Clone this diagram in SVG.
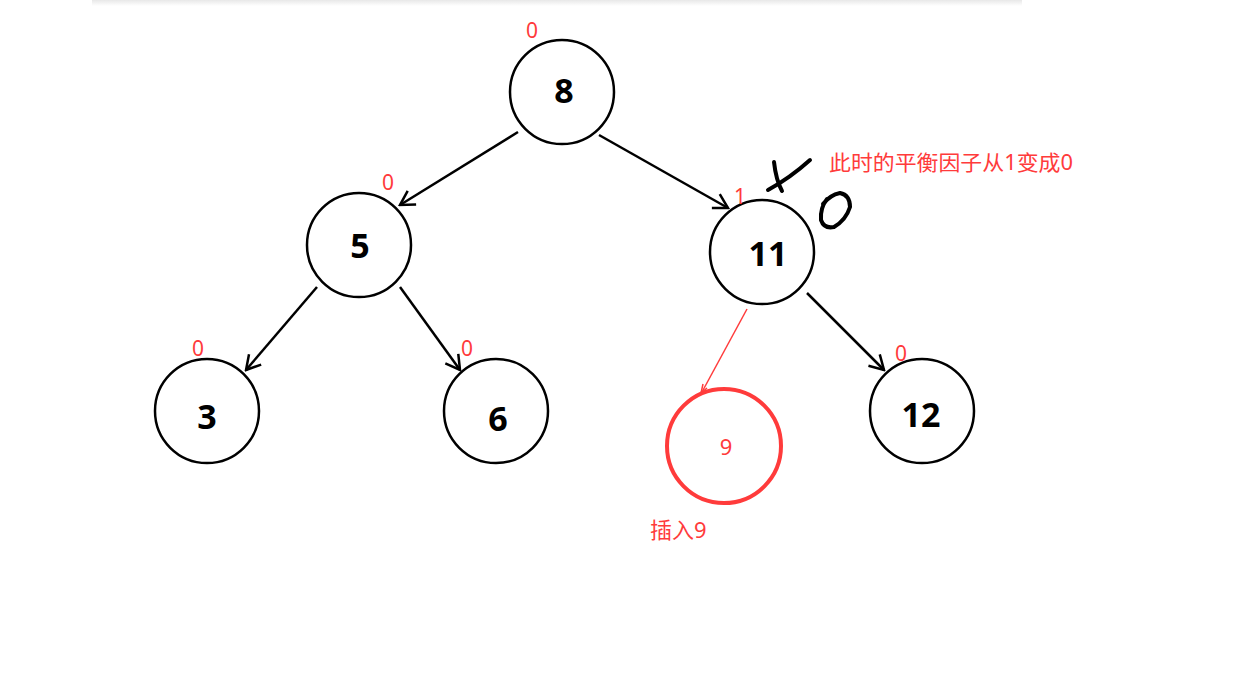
<svg xmlns="http://www.w3.org/2000/svg" width="1242" height="680" viewBox="0 0 1242 680">
<style>
.node{fill:#fff;stroke:#000;stroke-width:2.5}
.num{font-family:"Noto Sans","Open Sans",sans-serif;font-weight:bold;font-size:34px;fill:#000;text-anchor:middle}
.bf{font-family:"Noto Sans","Open Sans",sans-serif;font-size:21px;fill:#ff3b3b;text-anchor:middle}
.note{font-family:"Noto Sans","Noto Sans CJK SC",sans-serif;font-size:21px;fill:#ff3b3b}
.edge{stroke:#000;stroke-width:2.5;fill:none}
.hand{stroke:#000;stroke-width:4;fill:none;stroke-linecap:round;stroke-linejoin:round}
</style>
<defs>
<marker id="arr" viewBox="0 0 20 20" refX="18" refY="10" markerWidth="20" markerHeight="20" markerUnits="userSpaceOnUse" orient="auto">
<polyline points="4,2 18,10 4,18" fill="none" stroke="#000" stroke-width="2.5"/>
</marker>
<linearGradient id="sh" x1="0" y1="0" x2="0" y2="1">
<stop offset="0" stop-color="#e8e8e8"/>
<stop offset="1" stop-color="#fff"/>
</linearGradient>
</defs>
<rect width="1242" height="680" fill="#fff"/>
<rect x="92" y="0" width="930" height="6" fill="url(#sh)"/>
<g id="connectors">
<line class="edge" x1="518" y1="132" x2="400" y2="205" marker-end="url(#arr)"/>
<line class="edge" x1="599" y1="135" x2="728" y2="208" marker-end="url(#arr)"/>
<line class="edge" x1="317" y1="287" x2="246" y2="370" marker-end="url(#arr)"/>
<line class="edge" x1="400" y1="287" x2="460" y2="370" marker-end="url(#arr)"/>
<line class="edge" x1="807" y1="293" x2="884" y2="370" marker-end="url(#arr)"/>
<line x1="747" y1="309" x2="702" y2="392" stroke="#ff3b3b" stroke-width="1.5"/>
<polyline points="703,384 701,393 707,388" fill="none" stroke="#ff3b3b" stroke-width="1.5"/>
</g>
<g id="n8"><circle class="node" cx="562" cy="92" r="52"/><text class="num" x="564" y="103">8</text><text class="bf" x="532" y="38">0</text></g>
<g id="n5"><circle class="node" cx="359" cy="245" r="52"/><text class="num" x="360" y="258">5</text><text class="bf" x="388" y="190">0</text></g>
<g id="n11"><circle class="node" cx="762" cy="252" r="52"/><text class="num" x="768" y="266">11</text><text class="bf" x="740" y="204">1</text></g>
<g id="n3"><circle class="node" cx="207" cy="411" r="52"/><text class="num" x="207" y="429">3</text><text class="bf" x="198" y="356">0</text></g>
<g id="n6"><circle class="node" cx="496" cy="411" r="52"/><text class="num" x="498" y="431">6</text><text class="bf" x="467" y="356">0</text></g>
<g id="n12"><circle class="node" cx="922" cy="411" r="52"/><text class="num" x="921" y="427">12</text><text class="bf" x="901" y="361">0</text></g>
<g id="n9"><circle cx="724" cy="446" r="57" fill="#fff" stroke="#ff3b3b" stroke-width="4"/><text class="bf" x="726" y="455" style="font-size:22px">9</text></g>
<g id="handwriting">
<path class="hand" d="M774,162 Q776,180 782,191"/>
<path class="hand" d="M768,190 Q790,178 810,160"/>
<path class="hand" d="M827,199 Q820,208 821,220 Q824,229 834,227 Q846,220 850,207 Q850,195 840,193 Q830,195 823,204"/>
</g>
<g id="notes">
<text class="note" x="829" y="170" textLength="244" lengthAdjust="spacingAndGlyphs">此时的平衡因子从1变成0</text>
<text class="note" x="650" y="538" style="font-size:22px">插入9</text>
</g>
</svg>
